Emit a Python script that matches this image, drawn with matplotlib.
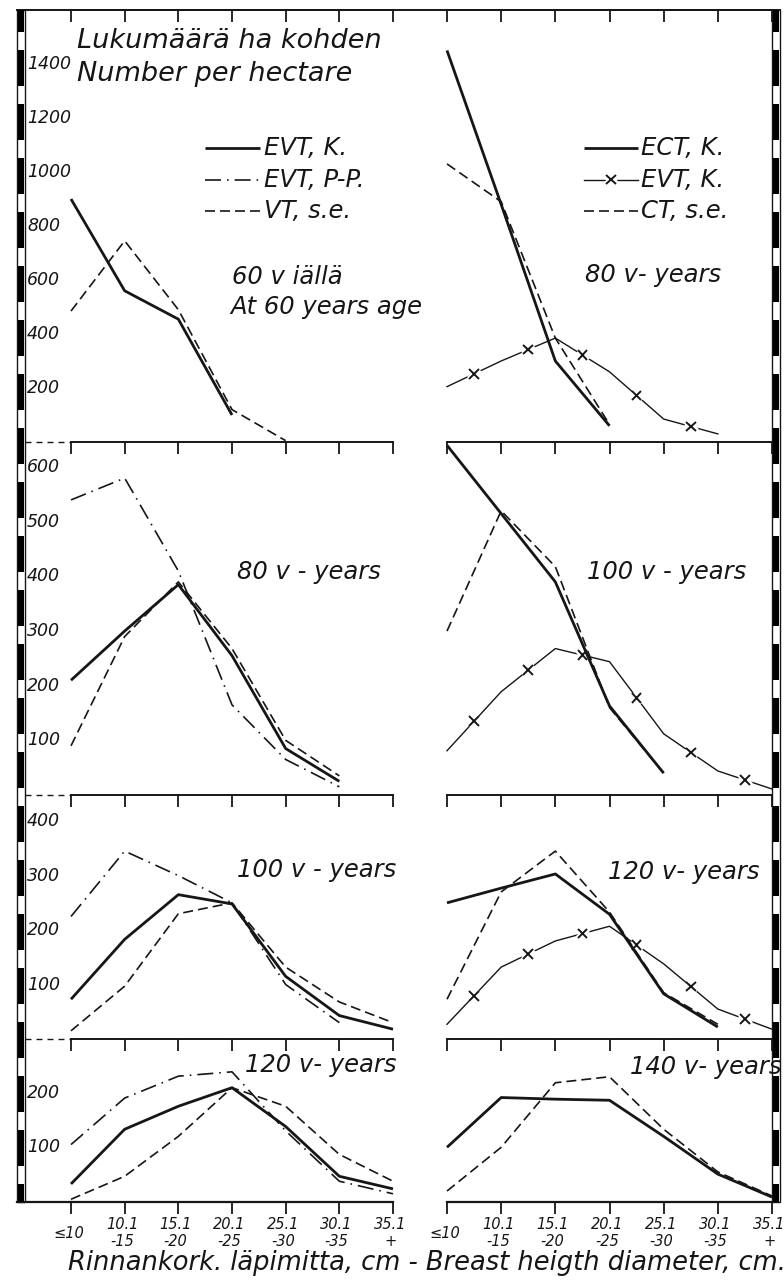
import numpy as np
import matplotlib
matplotlib.use("Agg")
import matplotlib.pyplot as plt
import matplotlib.patheffects as pe
from matplotlib.patches import Rectangle
from matplotlib.transforms import blended_transform_factory

W, H = 784, 1282
INK = "#161616"

plt.rcParams["font.family"] = ["DejaVu Sans"]
plt.rcParams["font.style"] = "oblique"
plt.rcParams["lines.scale_dashes"] = False

classes = ["≤10", "10.1\n-15", "15.1\n-20", "20.1\n-25",
           "25.1\n-30", "30.1\n-35", "35.1\n+"]

# stems per hectare by diameter class -- left column
evt_k_60 = [900, 560, 455, 100]
vt_se_60 = [485, 745, 490, 120, 5]
evt_k_80 = [210, 300, 385, 255, 85, 25]
evt_pp_80 = [540, 580, 410, 165, 65, 15]
vt_se_80 = [90, 290, 390, 268, 100, 35]
evt_k_100 = [73, 183, 265, 248, 115, 43, 18]
evt_pp_100 = [225, 345, 300, 250, 100, 30]
vt_se_100 = [15, 97, 230, 250, 132, 68, 30]
evt_k_120 = [33, 133, 175, 209, 138, 47, 24]
evt_pp_120 = [105, 190, 230, 238, 130, 38, 15]
vt_se_120 = [5, 47, 120, 209, 175, 87, 38]

# right column
ect_k_80 = [1450, 880, 300, 60]
evtx_k_80 = [205, 300, 385, 260, 85, 30]
ct_se_80 = [1030, 890, 385, 65]
ect_k_100 = [640, 515, 390, 163, 40]
evtx_k_100 = [81, 189, 268, 244, 112, 44, 11]
ct_se_100 = [300, 520, 418, 160, 40]
ect_k_120 = [250, 277, 303, 229, 83, 22]
evtx_k_120 = [27, 132, 180, 207, 138, 55, 18]
ct_se_120 = [73, 270, 345, 233, 85, 27]
ect_k_140 = [100, 191, 188, 186, 120, 51, 9]
ct_se_140 = [20, 100, 218, 229, 133, 55, 11]

yticks_rows = [list(range(200, 1401, 200)), list(range(100, 601, 100)),
               list(range(100, 401, 100)), [100, 200]]

left_labels = [["60 v iällä", "At 60 years age"], ["80 v - years"],
               ["100 v - years"], ["120 v- years"]]
right_labels = ["80 v- years", "100 v - years", "120 v- years", "140 v- years"]

left_legend = ["EVT, K.", "EVT, P-P.", "VT, s.e."]
right_legend = ["ECT, K.", "EVT, K.", "CT, s.e."]
title_fi = "Lukumäärä ha kohden"
title_en = "Number per hectare"
caption = "Rinnankork. läpimitta, cm - Breast heigth diameter, cm."

# pixel layout
ROWS = [(10, 442), (442, 795), (795, 1039), (1039, 1202)]
YTOP = [1600, 646, 448, 298]
COLS = [(71, 393), (447, 772)]

PT = 0.72  # points per pixel at dpi 100
STYLE = {
    "solid": dict(color=INK, lw=2.0, solid_joinstyle="round", solid_capstyle="butt"),
    "dashed": dict(color=INK, lw=1.2, linestyle=(0, (10 * PT, 5 * PT))),
    "dashdot": dict(color=INK, lw=1.2,
                    linestyle=(0, (16 * PT, 6 * PT, 1.6 * PT, 6 * PT))),
    "xline": dict(color=INK, lw=1.0),
}


def draw_series(ax, vals, kind):
    x = np.arange(len(vals))
    ax.plot(x, vals, clip_on=False, **STYLE[kind])
    if kind == "xline":
        xm = x[:-1] + 0.5
        ym = np.interp(xm, x, vals)
        ax.plot(xm, ym, ls="none", marker="x", ms=7, mew=1.4, color=INK,
                clip_on=False,
                path_effects=[pe.withStroke(linewidth=5, foreground="white")])


fig = plt.figure(figsize=(W / 100, H / 100), dpi=100)
fig.patch.set_facecolor("white")

ov = fig.add_axes([0, 0, 1, 1], zorder=10)
ov.set_xlim(0, W)
ov.set_ylim(H, 0)
ov.axis("off")
ov.patch.set_alpha(0)

panels = {}
for r, (y0, y1) in enumerate(ROWS):
    for c, (x0, x1) in enumerate(COLS):
        ax = fig.add_axes([x0 / W, 1 - y1 / H, (x1 - x0) / W, (y1 - y0) / H])
        ax.patch.set_alpha(0)
        ax.set_xlim(0, 6)
        ax.set_ylim(0, YTOP[r])
        for s in ("left", "right", "bottom"):
            ax.spines[s].set_visible(False)
        ax.spines["top"].set_linewidth(1.4)
        ax.spines["top"].set_color(INK)
        ax.set_yticks([])
        ax.set_xticks(range(7))
        ax.xaxis.set_ticks_position("top")
        ax.tick_params(axis="x", direction="in", length=12 * PT, width=1.3,
                       color=INK, labeltop=False, labelbottom=False)
        if r == len(ROWS) - 1:
            sec = ax.secondary_xaxis("bottom")
            sec.set_xticks(range(7))
            sec.set_xticklabels([])
            sec.tick_params(direction="out", length=12 * PT, width=1.3, color=INK)
            sec.spines["bottom"].set_linewidth(1.6)
            sec.spines["bottom"].set_color(INK)
            tr = blended_transform_factory(ax.transData, ov.transData)
            for i, lab in enumerate(classes):
                ax.text(i - 0.05, 1233, lab, transform=tr, ha="center",
                        va="center", fontsize=10.5, color=INK, linespacing=1.1,
                        clip_on=False)
        if c == 0:
            tr = blended_transform_factory(ov.transData, ax.transData)
            for v in yticks_rows[r]:
                ax.text(27, v, str(v), transform=tr, ha="left", va="center",
                        fontsize=12.5, color=INK, clip_on=False)
        panels[r, c] = ax

# left column curves
draw_series(panels[0, 0], evt_k_60, "solid")
draw_series(panels[0, 0], vt_se_60, "dashed")
for r, (k, pp, se) in enumerate([(evt_k_80, evt_pp_80, vt_se_80),
                                 (evt_k_100, evt_pp_100, vt_se_100),
                                 (evt_k_120, evt_pp_120, vt_se_120)], start=1):
    draw_series(panels[r, 0], pp, "dashdot")
    draw_series(panels[r, 0], se, "dashed")
    draw_series(panels[r, 0], k, "solid")

# right column curves
for r, (k, x, se) in enumerate([(ect_k_80, evtx_k_80, ct_se_80),
                                (ect_k_100, evtx_k_100, ct_se_100),
                                (ect_k_120, evtx_k_120, ct_se_120),
                                (ect_k_140, None, ct_se_140)]):
    if x is not None:
        draw_series(panels[r, 1], x, "xline")
    draw_series(panels[r, 1], se, "dashed")
    draw_series(panels[r, 1], k, "solid")

# frame: top rule, dashed stubs between rows, bottom rule
ov.plot([17, 780], [10, 10], color=INK, lw=1.4)
for y in (442, 795, 1039):
    ov.plot([25, 71], [y, y], color=INK, lw=1.0, ls=(0, (6 * PT, 5 * PT)))
ov.plot([17, 71], [1202, 1202], color=INK, lw=1.6)

# chequered border bars
for bx in (17, 772):
    ov.add_patch(Rectangle((bx, 10), 8, 1192, facecolor="white",
                           edgecolor=INK, lw=1.0))
    ov.plot([bx + 4, bx + 4], [10, 1202], color="black", lw=6 * PT,
            solid_capstyle="butt", dash_capstyle="butt",
            ls=(14 * PT, (36 * PT, 18 * PT)))

# headings
txt = dict(color=INK, ha="left", va="center")
ov.text(77, 41, title_fi, fontsize=19.5, **txt)
ov.text(77, 74, title_en, fontsize=19.5, **txt)

# legends
for i, (lab, kind) in enumerate(zip(left_legend, ["solid", "dashdot", "dashed"])):
    y = 148 + 31.5 * i
    ov.plot([205, 260], [y, y], **STYLE[kind])
    ov.text(264, y, lab, fontsize=17.5, **txt)
for i, (lab, kind) in enumerate(zip(right_legend, ["solid", "xline", "dashed"])):
    y = 148 + 31.5 * i
    ov.plot([584, 638], [y, y], **STYLE[kind])
    if kind == "xline":
        ov.plot([611], [y], ls="none", marker="x", ms=7, mew=1.4, color=INK,
                path_effects=[pe.withStroke(linewidth=5, foreground="white")])
    ov.text(641, y, lab, fontsize=17.5, **txt)

# panel labels
left_pos = [(232, 277), (237, 572), (237, 870), (245, 1065)]
right_pos = [(585, 275), (587, 572), (608, 872), (630, 1067)]
for (x, y), labs in zip(left_pos, left_labels):
    for j, lab in enumerate(labs):
        ov.text(x - 2 * j, y + 30 * j, lab, fontsize=17.5, **txt)
for (x, y), lab in zip(right_pos, right_labels):
    ov.text(x, y, lab, fontsize=17.5, **txt)

ov.text(68, 1263, caption, fontsize=18.5, **txt)

fig.savefig("out.png", dpi=100)
